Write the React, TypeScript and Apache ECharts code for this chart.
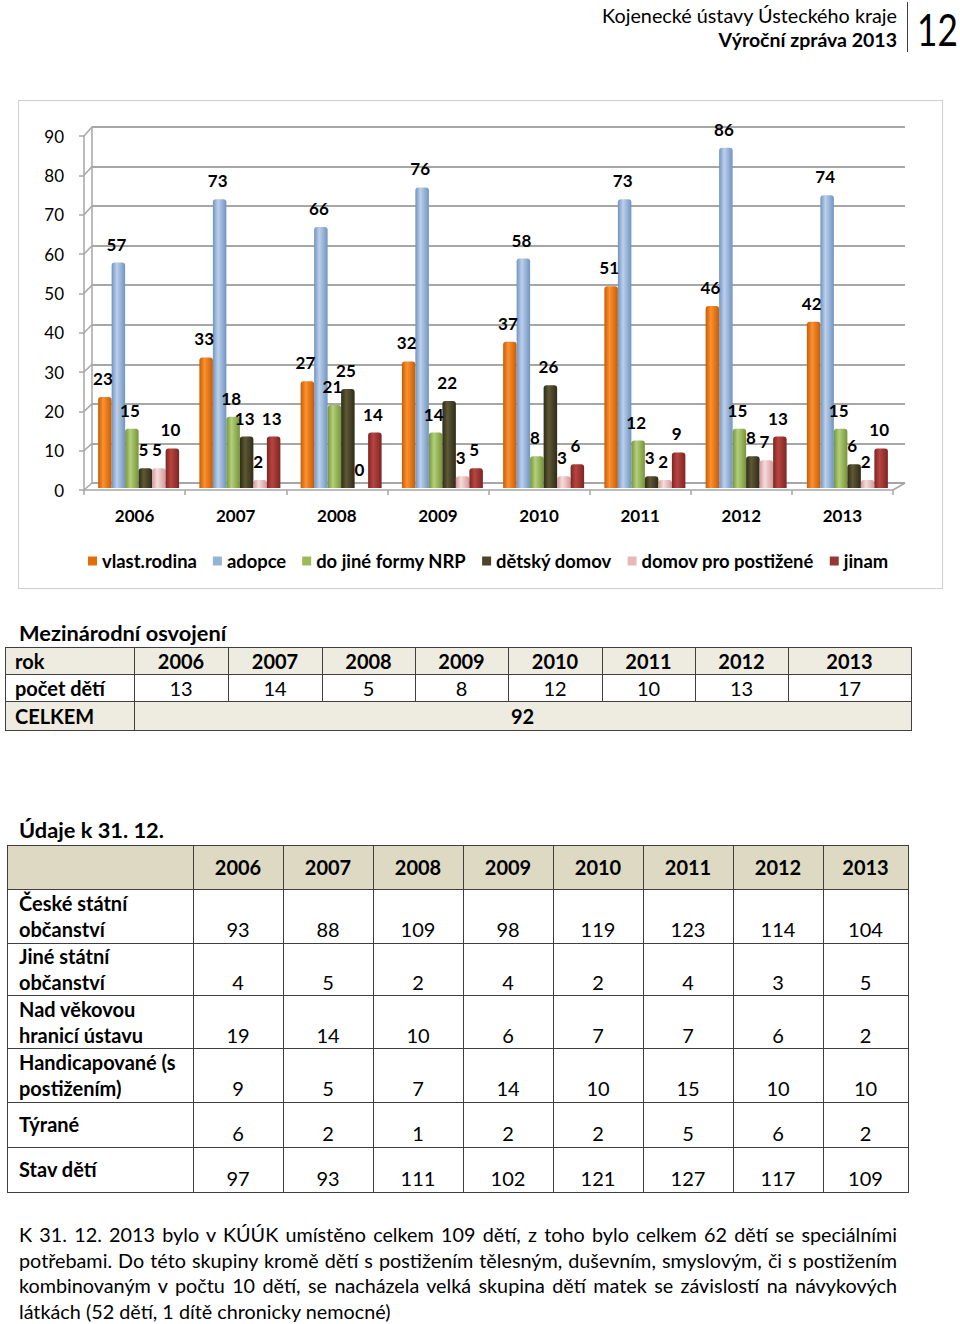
import React, { useEffect, useRef } from "react";
import * as echarts from "echarts";

// ---------- data ----------
const years = ["2006", "2007", "2008", "2009", "2010", "2011", "2012", "2013"];
const seriesNames = ["vlast.rodina", "adopce", "do jiné formy NRP", "dětský domov", "domov pro postižené", "jinam"];
const vlastRodina = [23, 33, 27, 32, 37, 51, 46, 42];
const adopce = [57, 73, 66, 76, 58, 73, 86, 74];
const jinaFormaNRP = [15, 18, 21, 14, 8, 12, 15, 15];
const detskyDomov = [5, 13, 25, 22, 26, 3, 8, 6];
const domovProPostizene = [5, 2, 0, 3, 3, 2, 7, 2];
const jinam = [10, 13, 14, 5, 6, 9, 13, 10];
const yMin = 0;
const yMax = 90;
const yStep = 10;

const adoptionTitle = "Mezinárodní osvojení";
const adoptionCounts = [13, 14, 5, 8, 12, 10, 13, 17];
const adoptionTotal = [92];

const statusTitle = "Údaje k 31. 12.";
const statusLabels = [
  ["České státní", "občanství"],
  ["Jiné státní", "občanství"],
  ["Nad věkovou", "hranicí ústavu"],
  ["Handicapované (s", "postižením)"],
  ["Týrané"],
  ["Stav dětí"],
];
const ceskeObcanstvi = [93, 88, 109, 98, 119, 123, 114, 104];
const jineObcanstvi = [4, 5, 2, 4, 2, 4, 3, 5];
const nadVekovouHranici = [19, 14, 10, 6, 7, 7, 6, 2];
const handicapovane = [9, 5, 7, 14, 10, 15, 10, 10];
const tyrane = [6, 2, 1, 2, 2, 5, 6, 2];
const stavDeti = [97, 93, 111, 102, 121, 127, 117, 109];

const paragraphLines = [
  "K 31. 12. 2013 bylo v KÚÚK umístěno celkem 109 dětí, z toho bylo celkem 62 dětí se speciálními",
  "potřebami. Do této skupiny kromě dětí s postižením tělesným, duševním, smyslovým, či s postižením",
  "kombinovaným v počtu 10 dětí, se nacházela velká skupina dětí matek se závislostí na návykových",
  "látkách (52 dětí, 1 dítě chronicky nemocné)",
];

// ---------- styles ----------
const FONT = "Lato, 'Noto Sans', sans-serif";
const palette = [
  { edge: "#c85c04", light: "#fb9130", flat: "#e46c0a" },
  { edge: "#7094c2", light: "#bcd0ea", flat: "#95b3d7" },
  { edge: "#76953a", light: "#b3cf7a", flat: "#9bbb59" },
  { edge: "#2f2b17", light: "#5e5836", flat: "#4a452a" },
  { edge: "#d29a99", light: "#f6dcdb", flat: "#e6b9b8" },
  { edge: "#7b2624", light: "#b9443f", flat: "#953735" },
];
const seriesData = [vlastRodina, adopce, jinaFormaNRP, detskyDomov, domovProPostizene, jinam];

// chart layout (relative to chart div)
const FRONT = { left: 65, top: 35, width: 809, height: 354 };
const BACK = { left: 73, top: 26, width: 813, height: 356 };
const BARS = { left: 69, top: 31, width: 810, height: 356 };
const GRID_COLOR = "#a6a6a6";

function Chart() {
  const ref = useRef<HTMLDivElement>(null);
  useEffect(() => {
    if (!ref.current) return;
    const chart = echarts.init(ref.current, undefined, { renderer: "svg" });
    const series: any[] = seriesData.map((d, i) => ({
      name: seriesNames[i],
      type: "bar",
      xAxisIndex: 0,
      yAxisIndex: 0,
      data: d,
      barWidth: 13.5,
      barGap: "0%",
      itemStyle: {
        borderRadius: [3, 3, 0, 0],
        color: new echarts.graphic.LinearGradient(0, 0, 1, 0, [
          { offset: 0, color: palette[i].edge },
          { offset: 0.38, color: palette[i].light },
          { offset: 1, color: palette[i].edge },
        ]),
      },
      label: {
        show: true,
        position: "top",
        distance: 10,
        offset: [-2, 0],
        fontFamily: FONT,
        fontWeight: "bold",
        fontSize: 17,
        color: "#000",
      },
    }));
    const valAxisBase = { type: "value", min: yMin, max: yMax, interval: yStep };
    chart.setOption({
      animation: false,
      textStyle: { fontFamily: FONT },
      grid: [
        { ...BARS, containLabel: false },
        { ...BACK, containLabel: false },
        { ...FRONT, containLabel: false },
      ],
      xAxis: [
        { gridIndex: 0, type: "category", data: years, show: false },
        { gridIndex: 1, type: "category", data: years, show: false },
        {
          gridIndex: 2,
          type: "category",
          data: years,
          axisLine: { show: true, lineStyle: { color: GRID_COLOR, width: 1.5 } },
          axisTick: { show: true, length: 5, lineStyle: { color: GRID_COLOR, width: 1.5 } },
          axisLabel: { fontFamily: FONT, fontWeight: "bold", fontSize: 17, color: "#000", margin: 17 },
        },
      ],
      yAxis: [
        { ...valAxisBase, gridIndex: 0, show: false },
        {
          ...valAxisBase,
          gridIndex: 1,
          axisLabel: { show: false },
          axisTick: { show: false },
          axisLine: { show: true, lineStyle: { color: GRID_COLOR, width: 1.5 } },
          splitLine: { show: true, lineStyle: { color: GRID_COLOR, width: 1.8 } },
        },
        {
          ...valAxisBase,
          gridIndex: 2,
          axisLine: { show: true, lineStyle: { color: GRID_COLOR, width: 1.5 } },
          axisTick: { show: true, length: 5, lineStyle: { color: GRID_COLOR, width: 1.5 } },
          splitLine: { show: false },
          axisLabel: { fontFamily: FONT, fontSize: 17, color: "#000", margin: 20 },
        },
      ],
      legend: {
        left: 64,
        top: 446,
        itemWidth: 9,
        itemHeight: 9,
        itemGap: 16,
        icon: "rect",
        textStyle: { fontFamily: FONT, fontWeight: "bold", fontSize: 18.4, color: "#000" },
        data: seriesNames.map((n, i) => ({ name: n, itemStyle: { color: palette[i].flat } })),
      },
      series,
    });

    // perspective connectors between front frame and back wall
    const lines: any[] = [];
    for (let v = yMin; v <= yMax; v += yStep) {
      const fy = chart.convertToPixel({ yAxisIndex: 2 } as any, v) as unknown as number;
      const by = chart.convertToPixel({ yAxisIndex: 1 } as any, v) as unknown as number;
      lines.push({
        type: "line",
        shape: { x1: FRONT.left, y1: fy, x2: BACK.left, y2: by },
        style: { stroke: GRID_COLOR, lineWidth: 1.5 },
        silent: true,
      });
    }
    const fy0 = chart.convertToPixel({ yAxisIndex: 2 } as any, yMin) as unknown as number;
    const by0 = chart.convertToPixel({ yAxisIndex: 1 } as any, yMin) as unknown as number;
    lines.push({
      type: "line",
      shape: { x1: FRONT.left + FRONT.width, y1: fy0, x2: BACK.left + BACK.width, y2: by0 },
      style: { stroke: GRID_COLOR, lineWidth: 1.5 },
      silent: true,
    });
    chart.setOption({ graphic: lines });
    return () => chart.dispose();
  }, []);
  return <div ref={ref} style={{ width: 923, height: 487 }} />;
}

function Txt(props: {
  x: number;
  y: number;
  w?: number;
  align?: "left" | "center" | "right";
  size?: number;
  bold?: boolean;
  children: React.ReactNode;
  lh?: number;
  scaleX?: number;
}) {
  const lh = props.lh ?? 26;
  const w = props.w ?? 400;
  let left = props.x;
  if (props.align === "center") left = props.x - w / 2;
  if (props.align === "right") left = props.x - w;
  return (
    <div
      style={{
        position: "absolute",
        left,
        top: props.y - lh / 2,
        width: w,
        height: lh,
        lineHeight: lh + "px",
        fontSize: props.size ?? 20,
        fontWeight: props.bold ? "bold" : "normal",
        textAlign: props.align ?? "left",
        whiteSpace: "nowrap",
        fontFamily: FONT,
        color: "#000",
        transform: props.scaleX ? `scaleX(${props.scaleX})` : undefined,
        transformOrigin: "left center",
      }}
    >
      {props.children}
    </div>
  );
}

function Cell(props: { x1: number; y1: number; x2: number; y2: number; bg: string }) {
  return (
    <div
      style={{
        position: "absolute",
        left: props.x1,
        top: props.y1,
        width: props.x2 - props.x1 + 1,
        height: props.y2 - props.y1 + 1,
        background: props.bg,
        border: "1px solid #3f3f3f",
        boxSizing: "border-box",
      }}
    />
  );
}

// table layouts
const T1X = [5, 134, 228, 322, 415, 508, 602, 695, 788, 911];
const T1Y = [647, 674, 701, 730];
const T2X = [7, 193, 283, 373, 463, 553, 643, 733, 823, 908];
const T2Y = [845, 889, 943, 995, 1048, 1102, 1147, 1192];
const T2LabelY = [[903, 929], [956, 982], [1009, 1035], [1062, 1088], [1124], [1169]];
const T2ValueY = [929, 982, 1035, 1088, 1133, 1178];

export default function App() {
  const statusValues = [ceskeObcanstvi, jineObcanstvi, nadVekovouHranici, handicapovane, tyrane, stavDeti];
  const cells: React.ReactNode[] = [];
  // table 1
  for (let r = 0; r < 3; r++) {
    const bg = r === 1 ? "#ffffff" : "#eeece1";
    cells.push(<Cell key={"a0" + r} x1={T1X[0]} y1={T1Y[r]} x2={T1X[1]} y2={T1Y[r + 1]} bg={bg} />);
    if (r === 2) {
      cells.push(<Cell key={"am"} x1={T1X[1]} y1={T1Y[r]} x2={T1X[9]} y2={T1Y[r + 1]} bg={bg} />);
    } else {
      for (let c = 1; c < 9; c++)
        cells.push(<Cell key={"a" + r + c} x1={T1X[c]} y1={T1Y[r]} x2={T1X[c + 1]} y2={T1Y[r + 1]} bg={bg} />);
    }
  }
  // table 2
  for (let r = 0; r < 7; r++) {
    const bg = r === 0 ? "#ddd9c3" : "#ffffff";
    for (let c = 0; c < 9; c++)
      cells.push(<Cell key={"b" + r + c} x1={T2X[c]} y1={T2Y[r]} x2={T2X[c + 1]} y2={T2Y[r + 1]} bg={bg} />);
  }

  const texts: React.ReactNode[] = [];
  const t1Mid = (r: number) => (T1Y[r] + T1Y[r + 1]) / 2;
  const colMid = (X: number[], c: number) => (X[c] + X[c + 1]) / 2;
  texts.push(<Txt key="t1r" x={15} y={t1Mid(0)} bold>rok</Txt>);
  texts.push(<Txt key="t1p" x={15} y={t1Mid(1)} bold>počet dětí</Txt>);
  texts.push(<Txt key="t1c" x={15} y={t1Mid(2)} bold>CELKEM</Txt>);
  years.forEach((yr, i) => {
    texts.push(<Txt key={"t1y" + i} x={colMid(T1X, i + 1)} y={t1Mid(0)} w={120} align="center" bold>{yr}</Txt>);
    texts.push(<Txt key={"t1v" + i} x={colMid(T1X, i + 1)} y={t1Mid(1)} w={120} align="center">{adoptionCounts[i]}</Txt>);
  });
  texts.push(<Txt key="t1t" x={(T1X[1] + T1X[9]) / 2} y={t1Mid(2)} w={120} align="center" bold>{adoptionTotal[0]}</Txt>);

  years.forEach((yr, i) => {
    texts.push(<Txt key={"t2y" + i} x={colMid(T2X, i + 1)} y={(T2Y[0] + T2Y[1]) / 2} w={100} align="center" bold>{yr}</Txt>);
  });
  statusLabels.forEach((lines, r) => {
    lines.forEach((ln, k) => {
      texts.push(<Txt key={"t2l" + r + k} x={19} y={T2LabelY[r][k]} bold>{ln}</Txt>);
    });
    statusValues[r].forEach((v, c) => {
      texts.push(<Txt key={"t2v" + r + c} x={colMid(T2X, c + 1)} y={T2ValueY[r]} w={100} align="center">{v}</Txt>);
    });
  });

  return (
    <div style={{ position: "absolute", left: 0, top: 0, width: 960, height: 1324, background: "#fff", overflow: "hidden" }}>
      {/* header */}
      <Txt x={897} y={15} w={500} align="right" size={19.8}>Kojenecké ústavy Ústeckého kraje</Txt>
      <Txt x={897} y={40} w={500} align="right" size={19.5} bold>Výroční zpráva 2013</Txt>
      <div style={{ position: "absolute", left: 907, top: 2, width: 1, height: 50, background: "#404040" }} />
      <Txt x={917} y={29} w={60} size={44} lh={50} scaleX={0.8}>12</Txt>

      {/* chart */}
      <div style={{ position: "absolute", left: 18, top: 100, width: 925, height: 489, border: "1px solid #cfcfcf", boxSizing: "border-box" }} />
      <div style={{ position: "absolute", left: 19, top: 101 }}>
        <Chart />
      </div>

      {/* table titles */}
      <Txt x={19} y={633} size={21.8} bold>{adoptionTitle}</Txt>
      <Txt x={19} y={830} size={21.8} bold>{statusTitle}</Txt>
      {cells}
      {texts}

      {/* paragraph */}
      {paragraphLines.map((ln, i) => (
        <div
          key={"p" + i}
          style={{
            position: "absolute",
            left: 19,
            top: 1234 + i * 25.7 - 13,
            width: 878,
            height: 26,
            lineHeight: "26px",
            fontSize: 19.8,
            fontFamily: FONT,
            textAlign: i < paragraphLines.length - 1 ? "justify" : "left",
            textAlignLast: i < paragraphLines.length - 1 ? "justify" : "left",
            whiteSpace: "nowrap",
            color: "#000",
          }}
        >
          {ln}
        </div>
      ))}
    </div>
  );
}
